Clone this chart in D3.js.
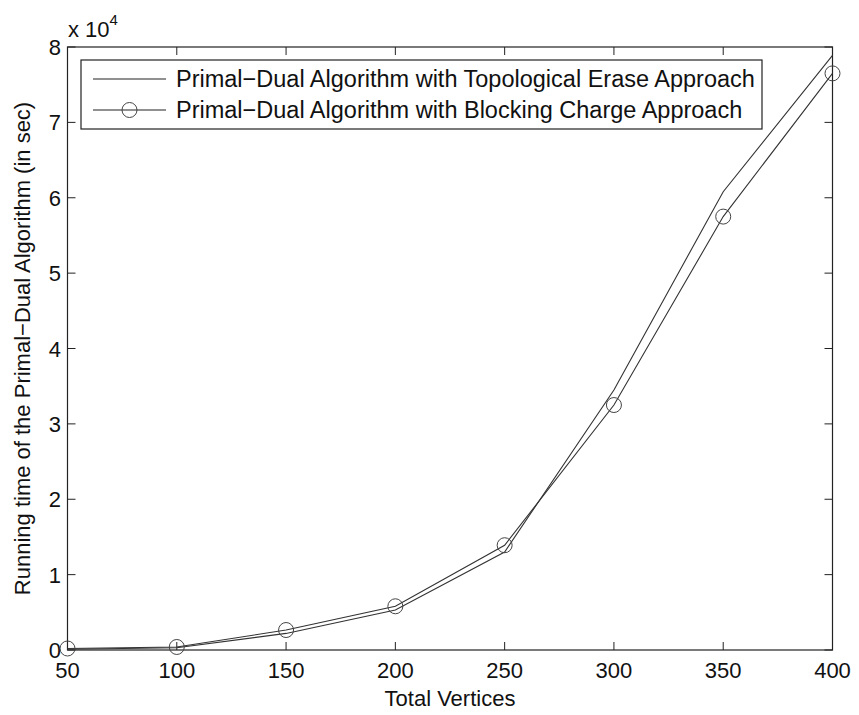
<!DOCTYPE html>
<html lang="en">
	<head>
		<meta charset="utf-8">
		<title>Primal-Dual running time</title>
		<script type="text/javascript" src="https://cdn.jsdelivr.net/npm/d3@7"></script>
		<style type="text/css">
			body { margin: 0; background: #fff; }
			text { font-family: "Liberation Sans", Arial, sans-serif; fill: #111; }
		</style>
	</head>
	<body>
		<script type="text/javascript">

			//Data
			var vertices = [50, 100, 150, 200, 250, 300, 350, 400];
			var topologicalErase = [100, 300, 2200, 5300, 13000, 34500, 60800, 78900];
			var blockingCharge = [200, 400, 2650, 5800, 13900, 32500, 57500, 76500];
			var seriesNames = ["Primal\u2212Dual Algorithm with Topological Erase Approach",
							   "Primal\u2212Dual Algorithm with Blocking Charge Approach"];
			var xTicks = [50, 100, 150, 200, 250, 300, 350, 400];
			var yTicks = [0, 1, 2, 3, 4, 5, 6, 7, 8];

			var w = 859;
			var h = 715;
			var padLeft = 67.5, padRight = 832.5, padTop = 47, padBottom = 650;

			var svg = d3.select("body")
						.append("svg")
						.attr("width", w)
						.attr("height", h);

			var xScale = d3.scaleLinear()
							.domain([50, 400])
							.range([padLeft, padRight]);

			var yScale = d3.scaleLinear()
							.domain([0, 80000])
							.range([padBottom, padTop]);

			//Plot box
			svg.append("rect")
			   .attr("x", padLeft)
			   .attr("y", padTop)
			   .attr("width", padRight - padLeft)
			   .attr("height", padBottom - padTop)
			   .attr("fill", "none")
			   .attr("stroke", "#222")
			   .attr("stroke-width", 1.2);

			//Ticks inside the box (bottom, top, left, right)
			var tickLen = 8;
			xTicks.forEach(function(t) {
				svg.append("line")
				   .attr("x1", xScale(t)).attr("x2", xScale(t))
				   .attr("y1", padBottom).attr("y2", padBottom - tickLen)
				   .attr("stroke", "#222");
				svg.append("line")
				   .attr("x1", xScale(t)).attr("x2", xScale(t))
				   .attr("y1", padTop).attr("y2", padTop + tickLen)
				   .attr("stroke", "#222");
				svg.append("text")
				   .attr("x", xScale(t))
				   .attr("y", padBottom + 28)
				   .attr("text-anchor", "middle")
				   .attr("font-size", "22px")
				   .text(t);
			});

			yTicks.forEach(function(t) {
				var y = yScale(t * 10000);
				svg.append("line")
				   .attr("x1", padLeft).attr("x2", padLeft + tickLen)
				   .attr("y1", y).attr("y2", y)
				   .attr("stroke", "#222");
				svg.append("line")
				   .attr("x1", padRight).attr("x2", padRight - tickLen)
				   .attr("y1", y).attr("y2", y)
				   .attr("stroke", "#222");
				svg.append("text")
				   .attr("x", 61)
				   .attr("y", y + 8)
				   .attr("text-anchor", "end")
				   .attr("font-size", "22px")
				   .text(t);
			});

			//Exponent label
			var expo = svg.append("text")
						  .attr("x", 68)
						  .attr("y", 37)
						  .attr("font-size", "22px");
			expo.append("tspan").text("x 10");
			expo.append("tspan")
				.attr("dy", -12)
				.attr("font-size", "15px")
				.text("4");

			//Axis titles
			svg.append("text")
			   .attr("x", (padLeft + padRight) / 2)
			   .attr("y", 706)
			   .attr("text-anchor", "middle")
			   .attr("font-size", "22px")
			   .text("Total Vertices");

			svg.append("text")
			   .attr("transform", "translate(30," + ((padTop + padBottom) / 2) + ") rotate(-90)")
			   .attr("text-anchor", "middle")
			   .attr("font-size", "22px")
			   .text("Running time of the Primal\u2212Dual Algorithm (in sec)");

			//Lines
			var line = d3.line()
						 .x(function(d, i) { return xScale(vertices[i]); })
						 .y(function(d) { return yScale(d); });

			svg.append("path")
			   .datum(topologicalErase)
			   .attr("d", line)
			   .attr("fill", "none")
			   .attr("stroke", "#333")
			   .attr("stroke-width", 1.1);

			svg.append("path")
			   .datum(blockingCharge)
			   .attr("d", line)
			   .attr("fill", "none")
			   .attr("stroke", "#333")
			   .attr("stroke-width", 1.1);

			svg.selectAll("circle.mark")
			   .data(blockingCharge)
			   .enter()
			   .append("circle")
			   .attr("class", "mark")
			   .attr("cx", function(d, i) { return xScale(vertices[i]); })
			   .attr("cy", function(d) { return yScale(d); })
			   .attr("r", 7.5)
			   .attr("fill", "none")
			   .attr("stroke", "#444")
			   .attr("stroke-width", 1);

			//Legend
			var lg = svg.append("g");
			lg.append("rect")
			  .attr("x", 81)
			  .attr("y", 60)
			  .attr("width", 681)
			  .attr("height", 69)
			  .attr("fill", "#fff")
			  .attr("stroke", "#222")
			  .attr("stroke-width", 1.2);

			seriesNames.forEach(function(name, i) {
				var y = 79 + i * 31;
				lg.append("line")
				  .attr("x1", 93).attr("x2", 166)
				  .attr("y1", y).attr("y2", y)
				  .attr("stroke", "#222")
				  .attr("stroke-width", 1.1);
				if (i === 1) {
					lg.append("circle")
					  .attr("cx", 129.5)
					  .attr("cy", y)
					  .attr("r", 7.5)
					  .attr("fill", "none")
					  .attr("stroke", "#444");
				}
				lg.append("text")
				  .attr("x", 176)
				  .attr("y", y + 8)
				  .attr("font-size", "23.5px")
				  .text(name);
			});

		</script>
	</body>
</html>
